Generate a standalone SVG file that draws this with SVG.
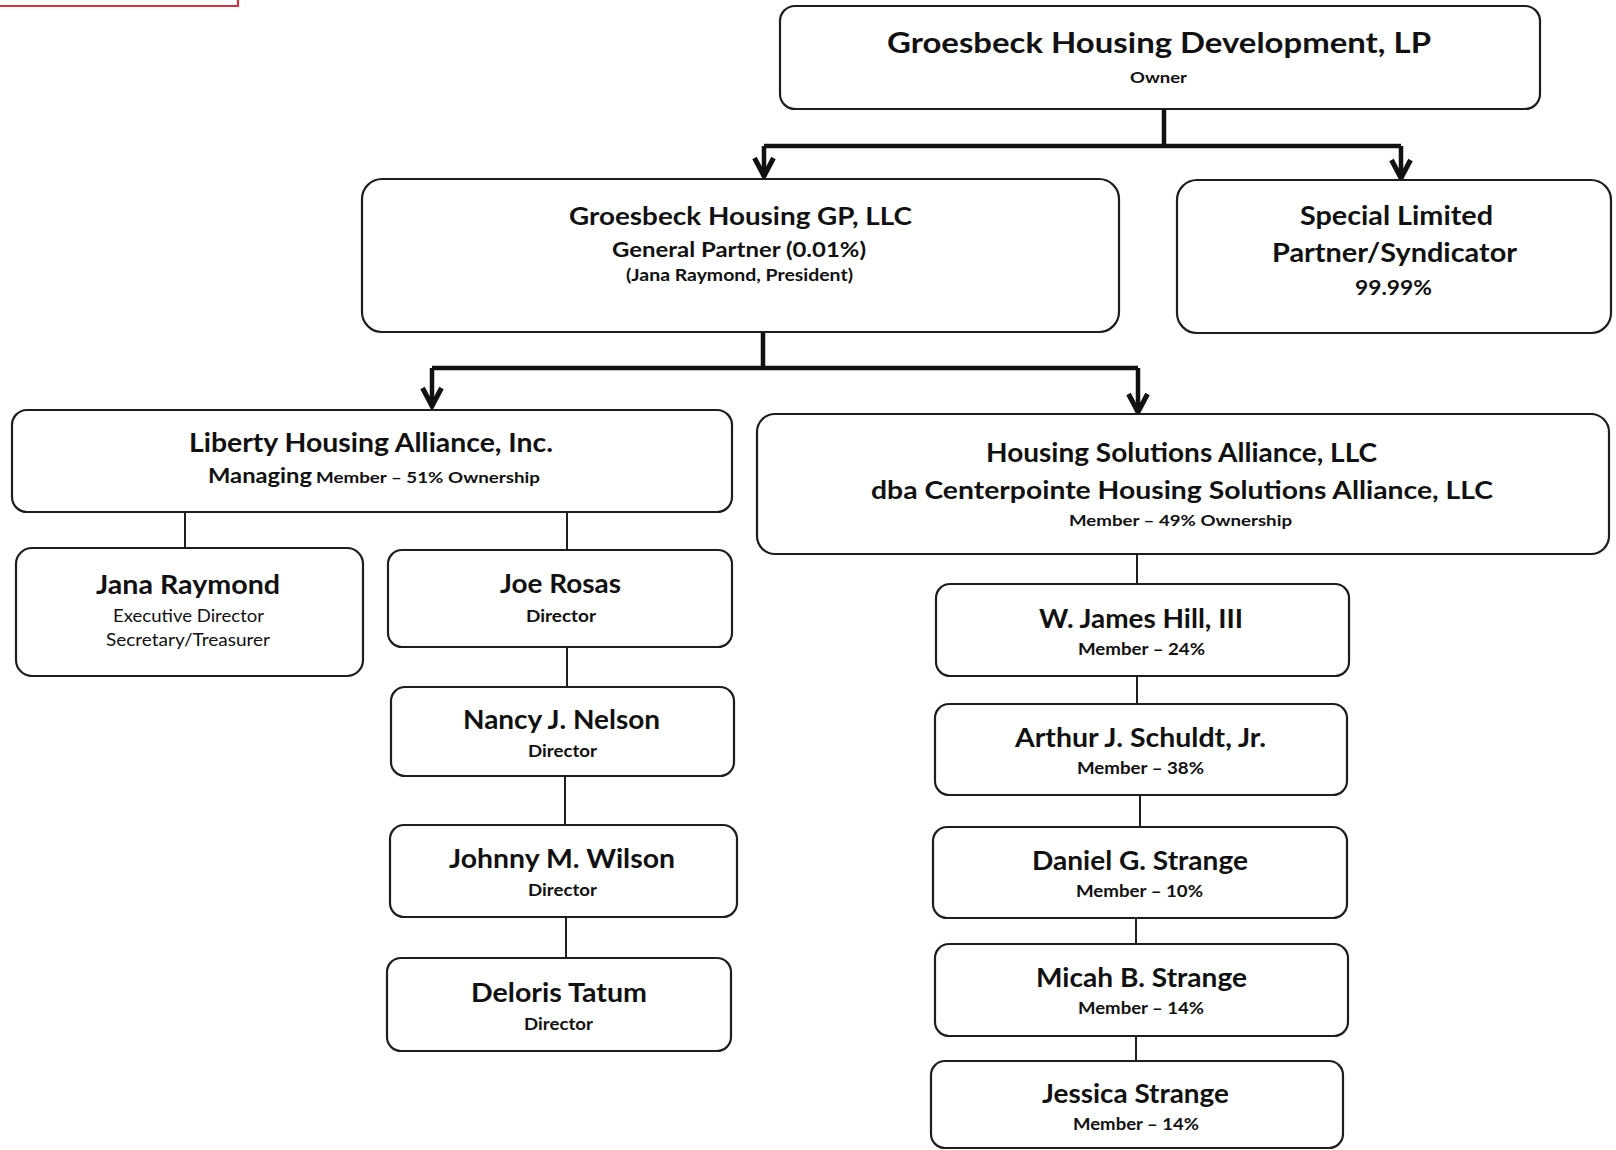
<svg xmlns="http://www.w3.org/2000/svg" width="1616" height="1150" viewBox="0 0 1616 1150">
  <style>
    .box { fill: #ffffff; stroke: #1e1e1e; stroke-width: 2.2; }
    .t { font-family: Lato, "Liberation Sans", sans-serif; fill: #111111; }
    .b { font-weight: 700; }
    .r { font-weight: 400; }
    .main { stroke: #111111; stroke-width: 4.5; fill: none; }
    .thin { stroke: #1e1e1e; stroke-width: 2; fill: none; }
  </style>
  <defs>
    <marker id="arrowDown" markerUnits="userSpaceOnUse" viewBox="-24 -14 28 28" refX="0" refY="0" markerWidth="28" markerHeight="28" orient="auto">
      <path d="M-19,-9.5 L-1,0 L-19,9.5" fill="none" stroke="#111111" stroke-width="5" stroke-linejoin="miter"/>
    </marker>
  </defs>

  <rect width="1616" height="1150" fill="#ffffff"/>

  <!-- red frame corner at the top left -->
  <path d="M0,6 H238 V0" fill="none" stroke="#d8303a" stroke-width="2.2"/>

  <!-- connectors -->
  <g id="connectors">
    <path class="main" d="M1164,110 V146 M764,146 H1401"/>
    <path class="main" d="M764,146 V177" marker-end="url(#arrowDown)"/>
    <path class="main" d="M1401,146 V179" marker-end="url(#arrowDown)"/>
    <path class="main" d="M763,332 V368 M432,368 H1138"/>
    <path class="main" d="M432,368 V407" marker-end="url(#arrowDown)"/>
    <path class="main" d="M1138,368 V413" marker-end="url(#arrowDown)"/>
    <path class="thin" d="M185,512 V548 M567,512 V550 M567,647 V687 M565,776 V825 M566,917 V958"/>
    <path class="thin" d="M1137,554 V584 M1137,676 V704 M1140,795 V827 M1136,918 V944 M1136,1036 V1061"/>
  </g>

  <g id="owner">
    <rect class="box" x="780" y="6" width="760" height="103" rx="15"/>
    <text class="t b" x="887" y="53" font-size="28" textLength="544" lengthAdjust="spacingAndGlyphs">Groesbeck Housing Development, LP</text>
    <text class="t b" x="1130" y="83" font-size="15" textLength="57" lengthAdjust="spacingAndGlyphs">Owner</text>
  </g>

  <g id="general-partner">
    <rect class="box" x="362" y="179" width="757" height="153" rx="20"/>
    <text class="t b" x="569" y="225" font-size="25" textLength="343" lengthAdjust="spacingAndGlyphs">Groesbeck Housing GP, LLC</text>
    <text class="t b" x="612" y="257" font-size="21" textLength="254" lengthAdjust="spacingAndGlyphs">General Partner (0.01%)</text>
    <text class="t b" x="626" y="281" font-size="17" textLength="227" lengthAdjust="spacingAndGlyphs">(Jana Raymond, President)</text>
  </g>

  <g id="special-limited-partner">
    <rect class="box" x="1177" y="180" width="434" height="153" rx="20"/>
    <text class="t b" x="1300" y="225" font-size="26" textLength="193" lengthAdjust="spacingAndGlyphs">Special Limited</text>
    <text class="t b" x="1272" y="262" font-size="26" textLength="245" lengthAdjust="spacingAndGlyphs">Partner/Syndicator</text>
    <text class="t b" x="1355" y="295" font-size="21" textLength="77" lengthAdjust="spacingAndGlyphs">99.99%</text>
  </g>

  <g id="liberty-housing">
    <rect class="box" x="12" y="410" width="720" height="102" rx="15"/>
    <text class="t b" x="189" y="452" font-size="26" textLength="364" lengthAdjust="spacingAndGlyphs">Liberty Housing Alliance, Inc.</text>
    <text class="t b" x="208" y="483" font-size="21" textLength="104" lengthAdjust="spacingAndGlyphs">Managing</text>
    <text class="t b" x="316" y="483" font-size="15" textLength="224" lengthAdjust="spacingAndGlyphs">Member – 51% Ownership</text>
  </g>

  <g id="housing-solutions">
    <rect class="box" x="757" y="414" width="852" height="140" rx="18"/>
    <text class="t b" x="986" y="462" font-size="26" textLength="391" lengthAdjust="spacingAndGlyphs">Housing Solutions Alliance, LLC</text>
    <text class="t b" x="871" y="499" font-size="25" textLength="622" lengthAdjust="spacingAndGlyphs">dba Centerpointe Housing Solutions Alliance, LLC</text>
    <text class="t b" x="1069" y="526" font-size="15" textLength="223" lengthAdjust="spacingAndGlyphs">Member – 49% Ownership</text>
  </g>

  <g id="jana-raymond">
    <rect class="box" x="16" y="548" width="347" height="128" rx="16"/>
    <text class="t b" x="96" y="594" font-size="26" textLength="184" lengthAdjust="spacingAndGlyphs">Jana Raymond</text>
    <text class="t r" x="113" y="622" font-size="18" textLength="151" lengthAdjust="spacingAndGlyphs">Executive Director</text>
    <text class="t r" x="106" y="646" font-size="18" textLength="164" lengthAdjust="spacingAndGlyphs">Secretary/Treasurer</text>
  </g>

  <g id="joe-rosas">
    <rect class="box" x="388" y="550" width="344" height="97" rx="14"/>
    <text class="t b" x="500" y="593" font-size="26" textLength="121" lengthAdjust="spacingAndGlyphs">Joe Rosas</text>
    <text class="t b" x="526" y="622" font-size="17" textLength="70" lengthAdjust="spacingAndGlyphs">Director</text>
  </g>

  <g id="nancy-nelson">
    <rect class="box" x="391" y="687" width="343" height="89" rx="14"/>
    <text class="t b" x="463" y="729" font-size="26" textLength="197" lengthAdjust="spacingAndGlyphs">Nancy J. Nelson</text>
    <text class="t b" x="528" y="757" font-size="17" textLength="69" lengthAdjust="spacingAndGlyphs">Director</text>
  </g>

  <g id="johnny-wilson">
    <rect class="box" x="390" y="825" width="347" height="92" rx="14"/>
    <text class="t b" x="449" y="868" font-size="26" textLength="226" lengthAdjust="spacingAndGlyphs">Johnny M. Wilson</text>
    <text class="t b" x="528" y="896" font-size="17" textLength="69" lengthAdjust="spacingAndGlyphs">Director</text>
  </g>

  <g id="deloris-tatum">
    <rect class="box" x="387" y="958" width="344" height="93" rx="14"/>
    <text class="t b" x="471" y="1002" font-size="26" textLength="176" lengthAdjust="spacingAndGlyphs">Deloris Tatum</text>
    <text class="t b" x="524" y="1030" font-size="17" textLength="69" lengthAdjust="spacingAndGlyphs">Director</text>
  </g>

  <g id="james-hill">
    <rect class="box" x="936" y="584" width="413" height="92" rx="14"/>
    <text class="t b" x="1039" y="628" font-size="26" textLength="204" lengthAdjust="spacingAndGlyphs">W. James Hill, III</text>
    <text class="t b" x="1078" y="655" font-size="17" textLength="127" lengthAdjust="spacingAndGlyphs">Member – 24%</text>
  </g>

  <g id="arthur-schuldt">
    <rect class="box" x="935" y="704" width="412" height="91" rx="14"/>
    <text class="t b" x="1015" y="747" font-size="26" textLength="251" lengthAdjust="spacingAndGlyphs">Arthur J. Schuldt, Jr.</text>
    <text class="t b" x="1077" y="774" font-size="17" textLength="127" lengthAdjust="spacingAndGlyphs">Member – 38%</text>
  </g>

  <g id="daniel-strange">
    <rect class="box" x="933" y="827" width="414" height="91" rx="14"/>
    <text class="t b" x="1032" y="870" font-size="26" textLength="216" lengthAdjust="spacingAndGlyphs">Daniel G. Strange</text>
    <text class="t b" x="1076" y="897" font-size="17" textLength="127" lengthAdjust="spacingAndGlyphs">Member – 10%</text>
  </g>

  <g id="micah-strange">
    <rect class="box" x="935" y="944" width="413" height="92" rx="14"/>
    <text class="t b" x="1036" y="987" font-size="26" textLength="211" lengthAdjust="spacingAndGlyphs">Micah B. Strange</text>
    <text class="t b" x="1078" y="1014" font-size="17" textLength="126" lengthAdjust="spacingAndGlyphs">Member – 14%</text>
  </g>

  <g id="jessica-strange">
    <rect class="box" x="931" y="1061" width="412" height="87" rx="14"/>
    <text class="t b" x="1042" y="1103" font-size="26" textLength="187" lengthAdjust="spacingAndGlyphs">Jessica Strange</text>
    <text class="t b" x="1073" y="1130" font-size="17" textLength="126" lengthAdjust="spacingAndGlyphs">Member – 14%</text>
  </g>
</svg>
